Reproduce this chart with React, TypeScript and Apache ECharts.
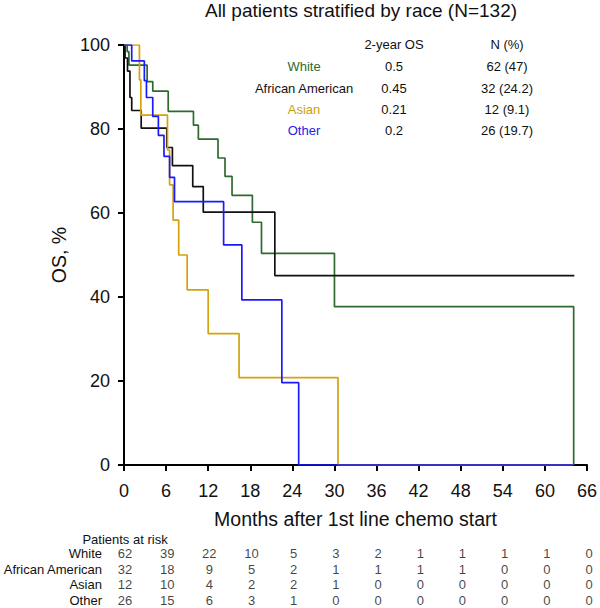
import React, { useEffect, useRef } from "react";
import * as echarts from "echarts";

const FONT = "'Liberation Sans', Arial, Helvetica, sans-serif";

const months = [0, 6, 12, 18, 24, 30, 36, 42, 48, 54, 60, 66];
const yTicks = [0, 20, 40, 60, 80, 100];

const groups = ["White", "African American", "Asian", "Other"];
const groupColors = ["#2e6a2e", "#111111", "#d4a20c", "#1a1aff"];
const labelColors = ["#2e6a2e", "#111111", "#c9a010", "#2222ee"];
const twoYearOS = ["0.5", "0.45", "0.21", "0.2"];
const nPct = ["62 (47)", "32 (24.2)", "12 (9.1)", "26 (19.7)"];

// Kaplan-Meier step points (time in months, survival %)
const whiteT = [0, 0.45, 0.7, 3.3, 4.1, 6.3, 9.9, 10.6, 13.4, 14.4, 15.4, 18.3, 19.6, 30.0, 64.1];
const whiteS = [100, 98.4, 95.2, 91.3, 89.0, 84.2, 80.9, 77.6, 73.1, 68.7, 64.2, 57.8, 50.4, 37.7, 0];

const aaT = [0, 0.15, 0.5, 0.85, 1.1, 2.45, 6.1, 6.9, 9.8, 11.3, 21.5, 64.2];
const aaS = [100, 96.9, 93.8, 87.5, 84.4, 80.2, 75.6, 71.3, 66.3, 60.2, 45.1, 45.1];

const asianT = [0, 2.2, 2.4, 6.2, 6.5, 7.0, 7.8, 9.0, 12.0, 16.4, 30.5, 64.0];
const asianS = [100, 91.7, 83.3, 75.0, 66.7, 58.3, 50.0, 41.7, 31.3, 20.8, 0, 0];

const otherT = [0, 1.1, 2.9, 3.2, 4.1, 4.9, 5.7, 6.5, 7.2, 14.2, 16.8, 22.5, 24.9, 64.0];
const otherS = [100, 96.2, 91.5, 87.5, 83.0, 78.5, 73.5, 68.5, 62.7, 52.4, 39.3, 19.6, 0, 0];

// Patients at risk
const riskWhite = [62, 39, 22, 10, 5, 3, 2, 1, 1, 1, 1, 0];
const riskAA = [32, 18, 9, 5, 2, 1, 1, 1, 1, 0, 0, 0];
const riskAsian = [12, 10, 4, 2, 2, 1, 0, 0, 0, 0, 0, 0];
const riskOther = [26, 15, 6, 3, 1, 0, 0, 0, 0, 0, 0, 0];

const curves = [
  [whiteT, whiteS],
  [aaT, aaS],
  [asianT, asianS],
  [otherT, otherS],
];
const risks = [riskWhite, riskAA, riskAsian, riskOther];

export default function App() {
  const ref = useRef<HTMLDivElement>(null);

  useEffect(() => {
    if (!ref.current) return;
    const chart = echarts.init(ref.current, null, { renderer: "svg" });

    const lineSeries = curves.map(([t, s], gi) => ({
      type: "line",
      name: groups[gi],
      xAxisIndex: 0,
      yAxisIndex: 0,
      step: "end",
      symbol: "none",
      data: t.map((v, i) => [v, s[i]]),
      lineStyle: { color: groupColors[gi], width: 1.7 },
      z: 2 + gi,
    }));

    const riskData: any[] = [];
    risks.forEach((row, ri) => {
      row.forEach((v, i) => riskData.push([months[i], groups[ri], v]));
    });

    const graphics: any[] = [
      {
        type: "text",
        x: 361,
        y: 10,
        style: {
          text: "All patients stratified by race (N=132)",
          fontSize: 19,
          fontFamily: FONT,
          fill: "#111",
          align: "center",
          verticalAlign: "middle",
        },
      },
      {
        type: "text",
        x: 394,
        y: 44,
        style: { text: "2-year OS", fontSize: 13, fontFamily: FONT, fill: "#111", align: "center", verticalAlign: "middle" },
      },
      {
        type: "text",
        x: 507,
        y: 44,
        style: { text: "N (%)", fontSize: 13, fontFamily: FONT, fill: "#111", align: "center", verticalAlign: "middle" },
      },
      {
        type: "text",
        x: 125,
        y: 539,
        style: { text: "Patients at risk", fontSize: 13, fontFamily: FONT, fill: "#111", align: "center", verticalAlign: "middle" },
      },
    ];
    const rowY = [66, 88, 109, 130];
    groups.forEach((g, i) => {
      graphics.push({
        type: "text",
        x: 304,
        y: rowY[i],
        style: { text: g, fontSize: 13, fontFamily: FONT, fill: labelColors[i], align: "center", verticalAlign: "middle" },
      });
      graphics.push({
        type: "text",
        x: 394,
        y: rowY[i],
        style: { text: twoYearOS[i], fontSize: 13, fontFamily: FONT, fill: "#111", align: "center", verticalAlign: "middle" },
      });
      graphics.push({
        type: "text",
        x: 507,
        y: rowY[i],
        style: { text: nPct[i], fontSize: 13, fontFamily: FONT, fill: "#111", align: "center", verticalAlign: "middle" },
      });
    });

    chart.setOption({
      animation: false,
      backgroundColor: "#ffffff",
      textStyle: { fontFamily: FONT },
      grid: [
        { left: 124, right: 11, top: 45, bottom: 143 },
        { left: 124, right: 11, top: 546, height: 62 },
      ],
      xAxis: [
        {
          type: "value",
          gridIndex: 0,
          min: 0,
          max: 66,
          interval: 6,
          name: "Months after 1st line chemo start",
          nameLocation: "middle",
          nameGap: 44,
          nameTextStyle: { fontSize: 19.5, color: "#111", fontFamily: FONT },
          axisLine: { show: true, lineStyle: { color: "#000", width: 2 } },
          axisTick: { show: true, length: 6, lineStyle: { color: "#000", width: 2 } },
          axisLabel: { fontSize: 18, color: "#111", margin: 17, fontFamily: FONT },
          splitLine: { show: false },
        },
        {
          type: "value",
          gridIndex: 1,
          min: 0,
          max: 66,
          interval: 6,
          show: false,
        },
      ],
      yAxis: [
        {
          type: "value",
          gridIndex: 0,
          min: 0,
          max: 100,
          interval: 20,
          name: "OS, %",
          nameLocation: "middle",
          nameGap: 54,
          nameRotate: 90,
          nameTextStyle: { fontSize: 19.5, color: "#111", fontFamily: FONT },
          axisLine: { show: true, lineStyle: { color: "#000", width: 2 } },
          axisTick: { show: true, length: 6, lineStyle: { color: "#000", width: 2 } },
          axisLabel: { fontSize: 18, color: "#111", margin: 14, fontFamily: FONT },
          splitLine: { show: false },
        },
        {
          type: "category",
          gridIndex: 1,
          data: groups,
          inverse: true,
          axisLine: { show: false },
          axisTick: { show: false },
          splitLine: { show: false },
          axisLabel: { interval: 0, fontSize: 13, color: "#111", margin: 23, fontFamily: FONT },
        },
      ],
      series: [
        ...lineSeries,
        {
          type: "scatter",
          xAxisIndex: 1,
          yAxisIndex: 1,
          symbolSize: 1,
          itemStyle: { color: "rgba(0,0,0,0)" },
          data: riskData,
          label: {
            show: true,
            position: "inside",
            formatter: (p: any) => String(p.value[2]),
            fontSize: 13,
            color: "#111",
            fontFamily: FONT,
          },
        },
      ],
      graphic: graphics,
    });

    return () => chart.dispose();
  }, []);

  return <div ref={ref} style={{ width: 600, height: 608, position: "absolute", left: 0, top: 0 }} />;
}
